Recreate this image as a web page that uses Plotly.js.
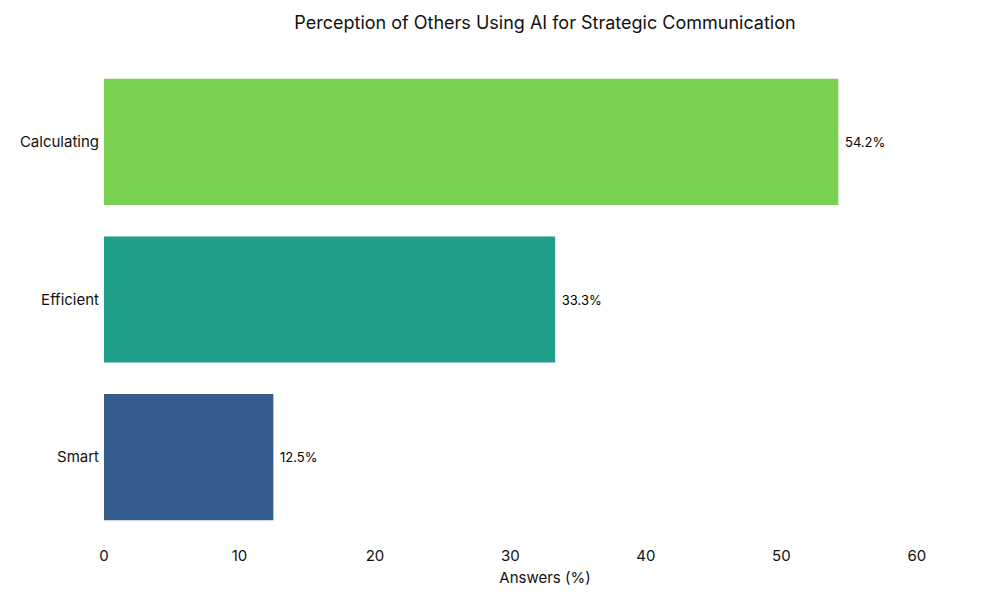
<!DOCTYPE html>
<html>
<head>
<meta charset="utf-8">
<script src="https://cdn.plot.ly/plotly-3.0.1.min.js"></script>
<style>
  body { margin: 0; background: #fff; }
  #chart { width: 1000px; height: 600px; }
</style>
</head>
<body>
<div id="chart"></div>
<script>
// categories, bottom to top
var categories = ['Smart', 'Efficient', 'Calculating']
var answers = [12.5, 33.3, 54.2]
var barColors = ['#365C8D', '#1F9E89', '#7AD151']
var xTicks = [0, 10, 20, 30, 40, 50, 60]

var labels = answers.map(function (v) { return ' ' + v.toFixed(1) + '%' })

var trace = {
    type: 'bar',
    orientation: 'h',
    x: answers,
    y: categories,
    text: labels,
    textposition: 'outside',
    cliponaxis: false,
    textfont: { size: 13, color: '#000' },
    marker: { color: barColors },
    width: 0.8,
    hoverinfo: 'x+y',
}

var layout = {
    font: { family: 'Inter, Roboto, sans-serif', color: '#111' },
    title: {
        text: 'Perception of Others Using AI for Strategic Communication',
        font: { size: 18, color: '#111' },
        x: 0.545, xanchor: 'center',
        y: 0.963, yanchor: 'middle',
    },
    showlegend: false,
    plot_bgcolor: '#fff',
    paper_bgcolor: '#fff',
    margin: { l: 104, r: 14, t: 63, b: 64 },
    bargap: 0.2,
    xaxis: {
        range: [0, 65.1],
        tickvals: xTicks,
        showgrid: false,
        zeroline: false,
        showline: false,
        ticks: 'outside',
        ticklen: 6,
        tickcolor: 'rgba(0,0,0,0)',
        tickfont: { size: 15 },
        title: { text: 'Answers (%)', font: { size: 15 }, standoff: 8 },
    },
    yaxis: {
        showgrid: false,
        zeroline: false,
        showline: false,
        ticks: '',
        ticklabelstandoff: 4,
        tickfont: { size: 15 },
    },
}

Plotly.newPlot('chart', [trace], layout, { displayModeBar: false })
</script>
</body>
</html>
